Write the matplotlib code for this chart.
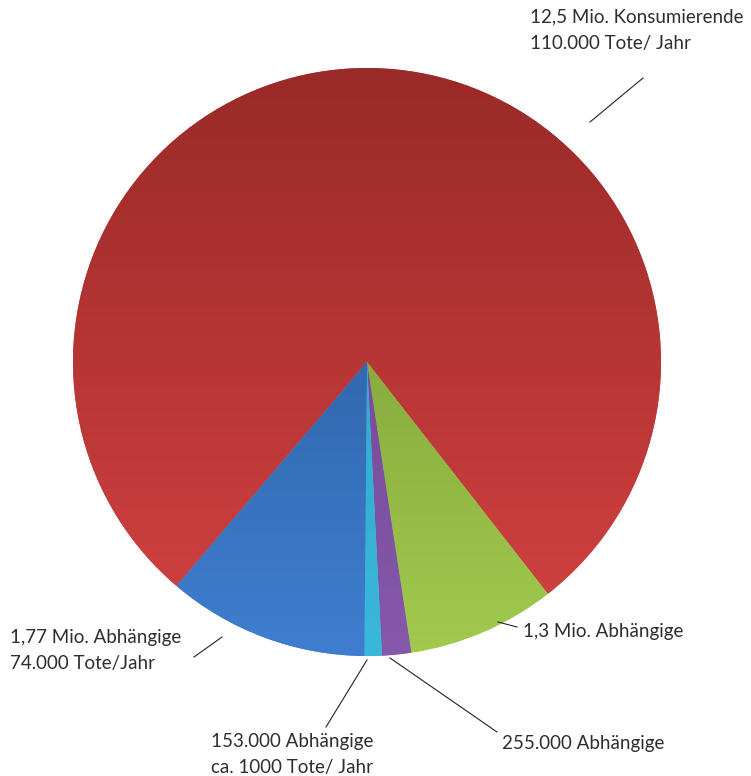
import numpy as np
import matplotlib
matplotlib.use("Agg")
import matplotlib.pyplot as plt
from matplotlib.colors import LinearSegmentedColormap

# Data (in millions of people)
categories = ["12,5 Mio. Konsumierende", "1,3 Mio. Abhängige", "255.000 Abhängige",
              "153.000 Abhängige", "1,77 Mio. Abhängige"]
values = [12.5, 1.3, 0.255, 0.153, 1.77]
label_lines = [
    ["12,5 Mio. Konsumierende", "110.000 Tote/ Jahr"],
    ["1,3 Mio. Abhängige"],
    ["255.000 Abhängige"],
    ["153.000 Abhängige", "ca. 1000 Tote/ Jahr"],
    ["1,77 Mio. Abhängige", "74.000 Tote/Jahr"],
]
# gradient colours (top of pie, bottom of pie)
grad_colors = [
    ("#992A28", "#D44242"),
    ("#6F8F2E", "#A2CA4E"),
    ("#6A4190", "#8558AA"),
    ("#2A9CC0", "#3AB8DC"),
    ("#24538F", "#3F7ECF"),
]

W, H = 751, 776
fig = plt.figure(figsize=(W / 100, H / 100), dpi=100)
ax = fig.add_axes([0, 0, 1, 1])
ax.set_xlim(0, W)
ax.set_ylim(0, H)
ax.set_aspect("equal")
ax.axis("off")

cx, cy, R = 367, H - 362, 294
wedges, _ = ax.pie(values, center=(cx, cy), radius=R, startangle=229.6,
                   counterclock=False, frame=True,
                   colors=[c[1] for c in grad_colors],
                   wedgeprops=dict(linewidth=0))
ax.set_xlim(0, W)
ax.set_ylim(0, H)
ax.axis("off")

grad = np.linspace(0, 1, 256).reshape(-1, 1)
for w, (top, bot) in zip(wedges, grad_colors):
    cmap = LinearSegmentedColormap.from_list("g", [bot, top])
    im = ax.imshow(grad, cmap=cmap, extent=(cx - R, cx + R, cy - R, cy + R),
                   origin="lower", aspect="auto", zorder=2, interpolation="bilinear")
    im.set_clip_path(w)
ax.set_xlim(0, W)
ax.set_ylim(0, H)

txt_kw = dict(family=["Lato", "DejaVu Sans"], fontsize=13.5, color="#2E2E2E",
              ha="left", va="center")

def px(x, y):
    return x, H - y

# text positions (pixel coords: left x, centre y per line)
text_pos = [
    [(530, 17), (530, 44)],
    [(523, 631)],
    [(502, 743)],
    [(211, 742), (211, 767)],
    [(10, 637), (10, 664)],
]
leaders = [
    ((590, 122), (643, 78)),
    ((498, 622), (517, 627)),
    ((390, 658), (497, 732)),
    ((367, 660), (326, 727)),
    ((194, 657), (222, 637)),
]
for lines, poss, (p0, p1) in zip(label_lines, text_pos, leaders):
    for s, (x, y) in zip(lines, poss):
        ax.text(*px(x, y), s, **txt_kw)
    ax.plot([p0[0], p1[0]], [H - p0[1], H - p1[1]], color="#222222", lw=0.8, zorder=3)

fig.savefig("out.png", dpi=100)
